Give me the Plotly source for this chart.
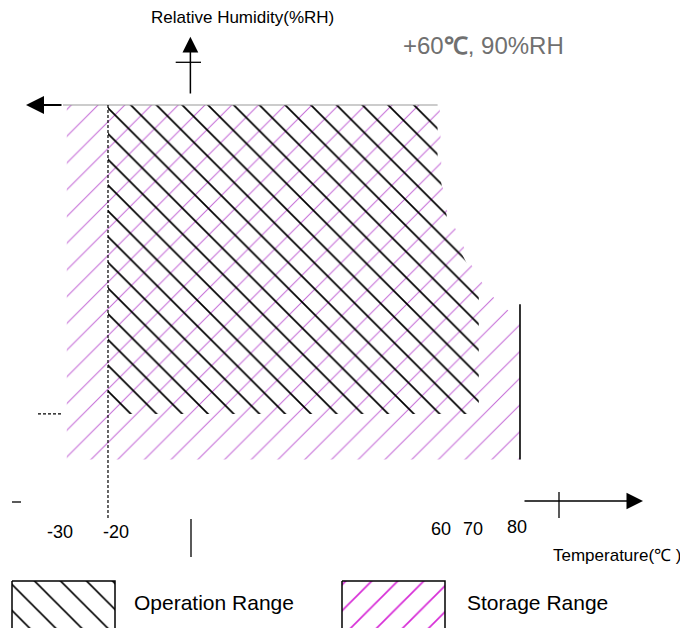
import plotly.graph_objects as go

# ---------------- data (temperature in °C, relative humidity in %RH) ----------------
storage_temp = [-30, 60.5, 61, 62, 66, 68, 72, 76, 80, 80, -30]
storage_rh = [100, 100, 81, 74, 65, 60, 53, 49, 46, 10.5, 10.5]

operation_temp = [-20, 60, 60, 61.3, 62.7, 70, 70, -20]
operation_rh = [100, 100, 86, 77.5, 69, 54, 22, 22]

temp_ticks = [-30, -20, 60, 70, 80]
temp_tick_labels = ["-30", "-20", "60", "70", "80"]

rh_top = 100          # upper humidity limit (top border line)
rh_op_min = 22        # operation minimum humidity (dashed marker)
storage_edge_rh = [49.7, 10.5]   # black edge at 80 °C
storage_edge_temp = [80, 80]
axis_temp = 0         # humidity axis position
axis_rh = 0           # temperature axis position

# ---------------- layout helpers ----------------
# The page body has an 8 px margin, so the figure is 680 x 620 and
# positions below are given in window pixels (figure pixel + 8).
OFF = 8
W, H = 680, 620
X0, X1 = -44.27, 120.78
Y0, Y1 = -32.07, 124.49


def dx(px):
    return X0 + (px - OFF) / W * (X1 - X0)


def dy(py):
    return Y1 - (py - OFF) / H * (Y1 - Y0)


FONT = "Liberation Sans, Arial, sans-serif"
PINK = "#c46ad6"
BLACK = "#000000"

fig = go.Figure()

# storage range (pink hatch)
fig.add_trace(go.Scatter(
    x=storage_temp, y=storage_rh, mode="lines", fill="toself",
    line=dict(width=0, color="rgba(0,0,0,0)"),
    fillcolor="rgba(0,0,0,0)",
    fillpattern=dict(shape="/", size=18.9, solidity=0.055, fgcolor=PINK,
                     bgcolor="rgba(0,0,0,0)", fillmode="replace"),
    hoverinfo="skip", showlegend=False))

# operation range (black hatch)
fig.add_trace(go.Scatter(
    x=operation_temp, y=operation_rh, mode="lines", fill="toself",
    line=dict(width=0, color="rgba(0,0,0,0)"),
    fillcolor="rgba(0,0,0,0)",
    fillpattern=dict(shape="\\", size=18.2, solidity=0.095, fgcolor=BLACK,
                     bgcolor="rgba(0,0,0,0)", fillmode="replace"),
    hoverinfo="skip", showlegend=False))


def seg(xs, ys, color="black", width=1.5, dash=None):
    fig.add_trace(go.Scatter(x=xs, y=ys, mode="lines",
                             line=dict(color=color, width=width, dash=dash),
                             hoverinfo="skip", showlegend=False))


# top border line (gray)
seg([dx(63), operation_temp[1]], [rh_top, rh_top], color="#9a9a9a", width=1.2)
# dotted line at -20 °C
seg([operation_temp[0], operation_temp[0]], [rh_top, dy(518)], color=BLACK, width=1.2, dash="3px,2px")
# dashed marker of operation minimum humidity
seg([dx(38), dx(63)], [rh_op_min, rh_op_min], color=BLACK, width=1.2, dash="3px,2px")
# storage right edge at 80 °C
seg(storage_edge_temp, storage_edge_rh, color=BLACK, width=1.6)
# temperature axis pieces
seg([dx(12), dx(21)], [dy(502), dy(502)], color=BLACK, width=1.3)
seg([dx(559), dx(559)], [dy(492), dy(518)], color=BLACK, width=1.3)
# humidity axis pieces
seg([dx(175.7), dx(201)], [dy(62.3), dy(62.3)], color=BLACK, width=1.3)
seg([dx(191), dx(191)], [dy(519), dy(557)], color=BLACK, width=1.3)

# legend boxes
box_y = [dy(581), dy(581), dy(660), dy(660), dy(581)]
fig.add_trace(go.Scatter(
    x=[dx(12), dx(115), dx(115), dx(12), dx(12)], y=box_y, mode="lines", fill="toself",
    line=dict(width=1.5, color=BLACK), fillcolor="rgba(0,0,0,0)",
    fillpattern=dict(shape="\\", size=18.4, solidity=0.085, fgcolor=BLACK,
                     bgcolor="rgba(0,0,0,0)", fillmode="replace"),
    hoverinfo="skip", showlegend=False))
fig.add_trace(go.Scatter(
    x=[dx(342), dx(445), dx(445), dx(342), dx(342)], y=box_y, mode="lines", fill="toself",
    line=dict(width=1.5, color=BLACK), fillcolor="rgba(0,0,0,0)",
    fillpattern=dict(shape="/", size=18.4, solidity=0.09, fgcolor="#d62ad6",
                     bgcolor="rgba(0,0,0,0)", fillmode="replace"),
    hoverinfo="skip", showlegend=False))

annotations = []


def arrow(tip_x, tip_y, tail_x, tail_y, width, size):
    annotations.append(dict(x=tip_x, y=tip_y, ax=tail_x, ay=tail_y,
                            xref="x", yref="y", axref="x", ayref="y",
                            text="", showarrow=True, arrowhead=2,
                            arrowwidth=width, arrowsize=size, arrowcolor=BLACK))


arrow(dx(26), rh_top, dx(63), rh_top, 2, 1.8)
arrow(axis_temp, dy(36.7), axis_temp, dy(95), 1.5, 2.1)
arrow(dx(643), axis_rh, dx(523), axis_rh, 1.5, 2.2)


def text(s, px, py, size, color="black", anchor="center"):
    annotations.append(dict(x=(px - OFF) / W, y=1 - (py - OFF) / H, xref="paper", yref="paper",
                            text=s, showarrow=False, xanchor=anchor, yanchor="middle",
                            font=dict(family=FONT, size=size, color=color)))


# tick labels (placed at their temperature values)
tick_shift = [-7, 8, 3, -6, -3]
tick_py = [532, 532, 529, 529, 527]
for t, lab, sh, py in zip(temp_ticks, temp_tick_labels, tick_shift, tick_py):
    annotations.append(dict(x=t, y=dy(py), xref="x", yref="y", text=lab, showarrow=False,
                            xshift=sh, xanchor="center", yanchor="middle",
                            font=dict(family=FONT, size=18, color="black")))

text("Relative Humidity(%RH)", 242, 18, 17)
text("+60<b>℃</b>, 90%RH", 484, 45, 24, color="#707070")
text("Temperature(℃ )", 551, 555, 17, anchor="left")
text("Operation Range", 132, 602, 21, anchor="left")
text("Storage Range", 465, 602, 21, anchor="left")

fig.update_layout(
    width=W, height=H,
    margin=dict(l=0, r=0, t=0, b=0),
    paper_bgcolor="white", plot_bgcolor="white",
    xaxis=dict(range=[X0, X1], visible=False, fixedrange=True),
    yaxis=dict(range=[Y0, Y1], visible=False, fixedrange=True),
    annotations=annotations,
    showlegend=False,
)

fig.write_html("out.html")
